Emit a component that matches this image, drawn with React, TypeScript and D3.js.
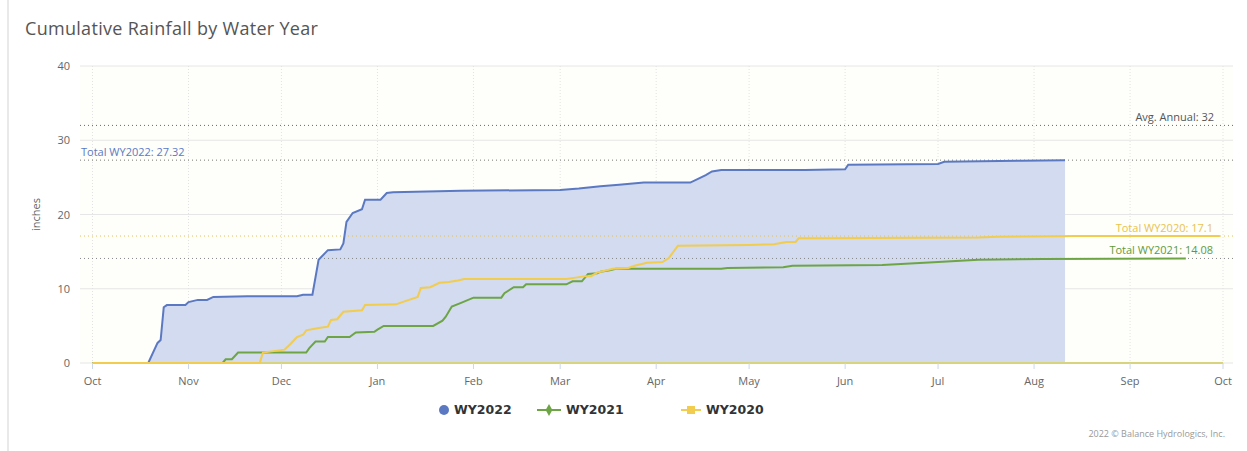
import * as d3 from "d3";
import {useEffect, useRef} from "react";

// dates are month-day inside the Oct 2021 - Sep 2022 water year frame
const wy2022Dates = ["10-01", "10-19", "10-22", "10-23", "10-24", "10-25", "10-31", "11-01", "11-04", "11-07", "11-09", "11-20", "12-06", "12-08", "12-11", "12-13", "12-16", "12-20", "12-21", "12-22", "12-24", "12-27", "12-28", "01-02", "01-04", "01-06", "01-28", "03-01", "03-07", "03-14", "03-20", "03-28", "04-12", "04-14", "04-17", "04-19", "04-22", "05-19", "06-01", "06-02", "07-01", "07-03", "07-28", "08-11"];
const wy2022Values = [0, 0, 2.7, 3.1, 7.5, 7.8, 7.8, 8.2, 8.5, 8.5, 8.9, 9.0, 9.0, 9.2, 9.2, 13.9, 15.2, 15.3, 16.1, 19.0, 20.2, 20.7, 22.0, 22.0, 22.9, 23.0, 23.2, 23.3, 23.5, 23.8, 24.0, 24.3, 24.3, 24.7, 25.3, 25.8, 26.0, 26.0, 26.1, 26.7, 26.8, 27.1, 27.25, 27.32];

const wy2021Dates = ["10-01", "11-12", "11-13", "11-15", "11-17", "12-09", "12-10", "12-12", "12-15", "12-16", "12-23", "12-25", "12-31", "01-01", "01-03", "01-19", "01-22", "01-23", "01-25", "01-28", "02-01", "02-10", "02-11", "02-14", "02-17", "02-18", "03-03", "03-05", "03-08", "03-10", "03-13", "03-14", "03-17", "03-19", "04-22", "04-24", "05-12", "05-15", "06-13", "07-01", "07-14", "08-04", "09-19"];
const wy2021Values = [0, 0, 0.5, 0.5, 1.4, 1.4, 2.0, 2.9, 2.9, 3.5, 3.5, 4.1, 4.2, 4.5, 5.0, 5.0, 5.7, 6.2, 7.6, 8.1, 8.8, 8.8, 9.4, 10.2, 10.2, 10.6, 10.6, 11.0, 11.0, 12.0, 12.1, 12.3, 12.5, 12.7, 12.7, 12.8, 12.9, 13.1, 13.2, 13.6, 13.9, 14.0, 14.08];

const wy2020Dates = ["10-01", "11-24", "11-25", "12-02", "12-04", "12-06", "12-08", "12-09", "12-13", "12-16", "12-17", "12-19", "12-21", "12-27", "12-28", "01-07", "01-09", "01-14", "01-15", "01-18", "01-21", "01-24", "01-27", "01-29", "03-03", "03-06", "03-09", "03-11", "03-13", "03-15", "03-18", "03-23", "03-25", "03-29", "04-03", "04-05", "04-08", "05-01", "05-09", "05-13", "05-16", "05-17", "05-24", "07-14", "07-20", "08-15", "09-30"];
const wy2020Values = [0, 0, 1.4, 1.8, 2.6, 3.5, 3.8, 4.4, 4.7, 4.9, 5.8, 5.9, 6.9, 7.1, 7.8, 7.9, 8.2, 8.9, 10.1, 10.2, 10.8, 10.9, 11.1, 11.3, 11.3, 11.5, 11.7, 11.7, 12.2, 12.4, 12.7, 12.8, 13.1, 13.5, 13.6, 14.1, 15.8, 15.9, 16.0, 16.3, 16.3, 16.8, 16.8, 16.9, 17.0, 17.1, 17.1];

const yTicks = [0, 10, 20, 30, 40];
const monthLabels = ["Oct", "Nov", "Dec", "Jan", "Feb", "Mar", "Apr", "May", "Jun", "Jul", "Aug", "Sep", "Oct"];

const avgAnnual = 32;
const totals = [
    {label: "Total WY2022: 27.32", value: 27.32},
    {label: "Total WY2020: 17.1", value: 17.1},
    {label: "Total WY2021: 14.08", value: 14.08},
];

const BLUE = "#5b79c2";
const GREEN = "#6da545";
const YELLOW = "#f1cc4f";

const toDate = (md: string) => {
    const [m, d] = md.split("-").map(Number);
    return new Date(m >= 10 ? 2021 : 2022, m - 1, d);
};

const App = () => {
    const svgRef = useRef(null);

    useEffect(() => {
        if (!svgRef.current) return;
        d3.select(svgRef.current).selectAll("*").remove();

        const width = 1247, height = 451;
        const plot = {left: 80, right: 1233, top: 66, bottom: 363};

        const xScale = d3.scaleTime()
            .domain([new Date(2021, 9, 1), new Date(2022, 9, 1)])
            .range([92.5, 1223]);
        const yScale = d3.scaleLinear().domain([0, 40]).range([plot.bottom, plot.top]);

        const svg = d3.select(svgRef.current)
            .attr("width", width)
            .attr("height", height)
            .style("font-family", "'Open Sans', sans-serif");

        svg.append("rect").attr("width", width).attr("height", height).attr("fill", "#fff");
        // left page border
        svg.append("rect").attr("x", 7).attr("y", 0).attr("width", 2).attr("height", height).attr("fill", "#e9e9e9");

        svg.append("text")
            .attr("x", 25).attr("y", 35)
            .attr("fill", "#555")
            .style("font-size", "18px")
            .style("letter-spacing", "0.3px")
            .text("Cumulative Rainfall by Water Year");

        svg.append("rect")
            .attr("x", plot.left).attr("y", plot.top)
            .attr("width", plot.right - plot.left).attr("height", plot.bottom - plot.top)
            .attr("fill", "#fefefb");

        // horizontal grid
        svg.append("g")
            .selectAll("line")
            .data(yTicks)
            .enter()
            .append("line")
            .attr("x1", plot.left).attr("x2", plot.right)
            .attr("y1", d => yScale(d)).attr("y2", d => yScale(d))
            .attr("stroke", "#e6e6e6");

        // vertical dotted grid at months
        const months = d3.timeMonth.range(new Date(2021, 9, 1), new Date(2022, 9, 2));
        svg.append("g")
            .selectAll("line")
            .data(months)
            .enter()
            .append("line")
            .attr("x1", d => xScale(d)).attr("x2", d => xScale(d))
            .attr("y1", plot.top).attr("y2", plot.bottom)
            .attr("stroke", "#e2e2e2")
            .attr("stroke-dasharray", "1,2");

        // y labels
        svg.append("g")
            .selectAll("text")
            .data(yTicks)
            .enter()
            .append("text")
            .attr("x", 70).attr("y", d => yScale(d) + 4)
            .attr("text-anchor", "end")
            .attr("fill", "#666")
            .style("font-size", "11px")
            .text(d => d);

        svg.append("text")
            .attr("transform", `translate(40,${yScale(20)}) rotate(-90)`)
            .attr("text-anchor", "middle")
            .attr("fill", "#666")
            .style("font-size", "11px")
            .text("inches");

        // blue area + lines
        const pts = (dates: string[], vals: number[]) => dates.map((d, i) => ({x: toDate(d), y: vals[i]}));
        const s2022 = pts(wy2022Dates, wy2022Values);
        const s2021 = pts(wy2021Dates, wy2021Values);
        const s2020 = pts(wy2020Dates, wy2020Values);

        const area = d3.area<{x: Date; y: number}>()
            .x(d => xScale(d.x)).y0(yScale(0)).y1(d => yScale(d.y));
        const line = d3.line<{x: Date; y: number}>()
            .x(d => xScale(d.x)).y(d => yScale(d.y));

        svg.append("path").datum(s2022).attr("d", area).attr("fill", "#d2dbef");

        // dotted reference lines
        const refs = [
            {v: avgAnnual, c: "#666"},
            {v: totals[0].value, c: "#777"},
            {v: totals[1].value, c: "#e3c25a"},
            {v: totals[2].value, c: "#888"},
        ];
        svg.append("g")
            .selectAll("line")
            .data(refs)
            .enter()
            .append("line")
            .attr("x1", plot.left).attr("x2", plot.right)
            .attr("y1", d => yScale(d.v)).attr("y2", d => yScale(d.v))
            .attr("stroke", d => d.c)
            .attr("stroke-dasharray", "1,3");

        // axis baseline
        svg.append("line")
            .attr("x1", xScale(new Date(2021, 9, 1))).attr("x2", xScale(new Date(2022, 9, 1)))
            .attr("y1", yScale(0)).attr("y2", yScale(0))
            .attr("stroke", "#d8d47e").attr("stroke-width", 2);

        svg.append("path").datum(s2022).attr("d", line)
            .attr("fill", "none").attr("stroke", BLUE).attr("stroke-width", 2);
        svg.append("path").datum(s2021).attr("d", line)
            .attr("fill", "none").attr("stroke", GREEN).attr("stroke-width", 2);
        svg.append("path").datum(s2020).attr("d", line)
            .attr("fill", "none").attr("stroke", YELLOW).attr("stroke-width", 2);

        // reference labels
        svg.append("text").attr("x", 1214).attr("y", yScale(avgAnnual) - 4)
            .attr("text-anchor", "end").attr("fill", "#555").style("font-size", "11px")
            .text(`Avg. Annual: ${avgAnnual}`);
        svg.append("text").attr("x", 81).attr("y", yScale(totals[0].value) - 4)
            .attr("fill", BLUE).style("font-size", "11px").text(totals[0].label);
        svg.append("text").attr("x", 1213).attr("y", yScale(totals[1].value) - 4)
            .attr("text-anchor", "end").attr("fill", "#e9c34e").style("font-size", "11px").text(totals[1].label);
        svg.append("text").attr("x", 1213).attr("y", yScale(totals[2].value) - 4)
            .attr("text-anchor", "end").attr("fill", "#5f9a3a").style("font-size", "11px").text(totals[2].label);

        // x ticks + labels
        const xg = svg.append("g");
        xg.selectAll("line")
            .data(months)
            .enter()
            .append("line")
            .attr("x1", d => xScale(d)).attr("x2", d => xScale(d))
            .attr("y1", plot.bottom).attr("y2", plot.bottom + 6)
            .attr("stroke", "#ccd6eb");
        xg.selectAll("text")
            .data(months)
            .enter()
            .append("text")
            .attr("x", d => xScale(d)).attr("y", 385)
            .attr("text-anchor", "middle")
            .attr("fill", "#666")
            .style("font-size", "11px")
            .text((d, i) => monthLabels[i]);

        // legend
        const lg = svg.append("g")
            .style("font-family", "'DejaVu Sans', sans-serif")
            .style("font-size", "12.5px").style("font-weight", "bold").attr("fill", "#333");
        lg.append("circle").attr("cx", 444).attr("cy", 410).attr("r", 5).attr("fill", BLUE);
        lg.append("text").attr("x", 454).attr("y", 414).text("WY2022");
        lg.append("line").attr("x1", 537).attr("x2", 561).attr("y1", 410).attr("y2", 410)
            .attr("stroke", GREEN).attr("stroke-width", 2);
        lg.append("path").attr("d", d3.symbol(d3.symbolDiamond, 40)()).attr("transform", "translate(549,410)").attr("fill", GREEN);
        lg.append("text").attr("x", 566).attr("y", 414).text("WY2021");
        lg.append("line").attr("x1", 681).attr("x2", 701).attr("y1", 410).attr("y2", 410)
            .attr("stroke", YELLOW).attr("stroke-width", 2);
        lg.append("rect").attr("x", 687).attr("y", 406).attr("width", 8).attr("height", 8).attr("fill", YELLOW);
        lg.append("text").attr("x", 706).attr("y", 414).text("WY2020");

        svg.append("text").attr("x", 1225).attr("y", 437)
            .attr("text-anchor", "end").attr("fill", "#999").style("font-size", "9px")
            .text("2022 © Balance Hydrologics, Inc.");
    }, []);

    return <div style={{position: "absolute", left: 0, top: 0}}>
        <svg ref={svgRef}></svg>
    </div>;
};

export default App;
